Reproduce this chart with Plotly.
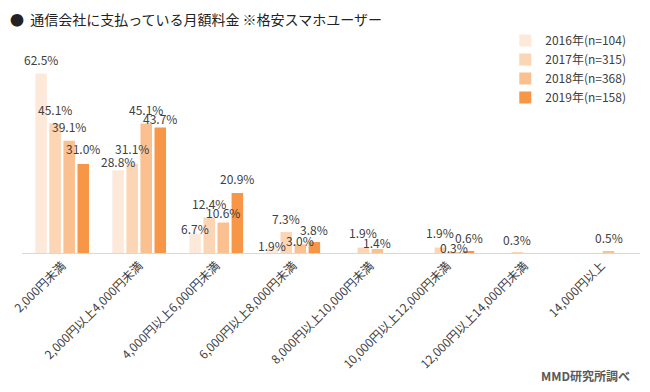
import plotly.graph_objects as go

categories = ["2,000円未満", "2,000円以上4,000円未満", "4,000円以上6,000円未満",
              "6,000円以上8,000円未満", "8,000円以上10,000円未満",
              "10,000円以上12,000円未満", "12,000円以上14,000円未満", "14,000円以上"]
series_names = ["2016年(n=104)", "2017年(n=315)", "2018年(n=368)", "2019年(n=158)"]
v2016 = [62.5, 28.8, 6.7, 1.9, None, None, None, None]
v2017 = [45.1, 31.1, 12.4, 7.3, 1.9, 1.9, 0.3, None]
v2018 = [39.1, 45.1, 10.6, 3.0, 1.4, 0.3, None, 0.5]
v2019 = [31.0, 43.7, 20.9, 3.8, None, 0.6, None, None]
colors = ["#FDE9D9", "#FCD5B5", "#FAC090", "#F79646"]

# style: how far (px) each data label sits above its bar top, mimicking the
# hand-placed labels of the original
label_raise = [
    [14, 9, 5, 2, 0, 0, 0, 0],
    [14, 15, 14, 14, 15, 15, 13, 0],
    [14, 14, 10, 4, 6, 5, 0, 14],
    [15, 9, 14, 13, 0, 14, 0, 0],
]

FONT = "Noto Sans CJK JP, Noto Sans, sans-serif"
W, H = 634, 376
ML, MR, MT, MB = 14, 2, 44, 131
BARGAP, BARGROUPGAP = 0.27, 0.18

fig = go.Figure()
series = [v2016, v2017, v2018, v2019]
for name, vals, col in zip(series_names, series, colors):
    fig.add_trace(go.Bar(
        x=categories, y=vals, name=name, marker=dict(color=col, line=dict(width=0)),
    ))

# data labels centred over each bar of the group
band = (W - ML - MR) / len(categories)
slot = band * (1 - BARGAP) / len(series)
annotations = []
for i, vals in enumerate(series):
    xoff = (i - (len(series) - 1) / 2) * slot
    for j, v in enumerate(vals):
        if v is None:
            continue
        annotations.append(dict(
            x=categories[j], y=v, xref="x", yref="y", text=f"{v:.1f}%",
            showarrow=False, xanchor="center", yanchor="middle",
            xshift=xoff, yshift=label_raise[i][j],
            font=dict(size=12, color="#404040", family=FONT)))

annotations.append(dict(text="<b>MMD研究所調べ</b>", xref="paper", yref="paper",
                        x=0.987, y=-0.61, xanchor="right", yanchor="middle", showarrow=False,
                        font=dict(size=12, color="#595959", family=FONT)))

# the page body has an 8px default margin, so the figure is sized to fit inside it
fig.update_layout(
    width=W, height=H,
    margin=dict(l=ML, r=MR, t=MT, b=MB, autoexpand=False),
    paper_bgcolor="white", plot_bgcolor="white",
    barmode="group", bargap=BARGAP, bargroupgap=BARGROUPGAP,
    font=dict(family=FONT, size=11, color="#404040"),
    showlegend=True,
    legend=dict(x=0.782, y=1.129, xanchor="left", yanchor="top",
                font=dict(size=12, color="#404040", family=FONT),
                tracegroupgap=0, itemwidth=30, bgcolor="rgba(0,0,0,0)"),
    title=dict(text="●&nbsp;&nbsp;通信会社に支払っている月額料金 ※格安スマホユーザー",
               x=0.003, xanchor="left", y=0.968, yanchor="middle",
               font=dict(size=14, color="#222222", family=FONT)),
    xaxis=dict(showgrid=False, showline=True, linecolor="#D9D9D9", linewidth=1,
               automargin=False,
               ticks="", tickangle=-45, tickfont=dict(size=12, color="#404040")),
    yaxis=dict(range=[0, 70], showgrid=False, showticklabels=False, zeroline=False,
               showline=False, automargin=False),
    annotations=annotations,
)
fig.write_html("out.html")
